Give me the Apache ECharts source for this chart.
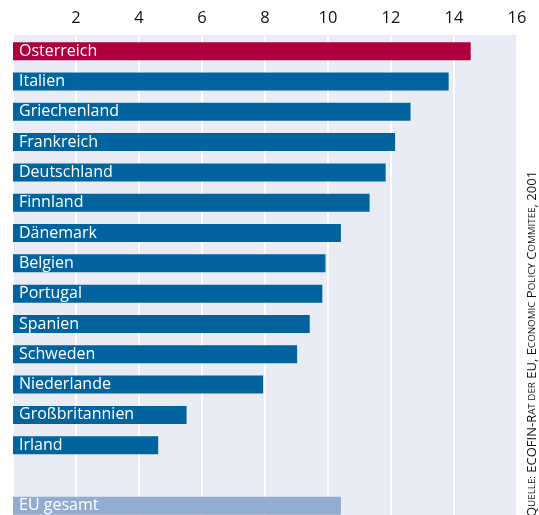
<!DOCTYPE html>
<html>
<head>
<meta charset="utf-8">
<script src="https://cdn.jsdelivr.net/npm/echarts@6/dist/echarts.min.js"></script>
<style>
html,body{margin:0;padding:0;background:#fff;overflow:hidden;width:539px;height:515px;}
#chart{width:539px;height:521px;}
</style>
</head>
<body>
<div id="chart"></div>
<script>
const categories = ['Österreich','Italien','Griechenland','Frankreich','Deutschland','Finnland','Dänemark','Belgien','Portugal','Spanien','Schweden','Niederlande','Großbritannien','Irland','','EU gesamt'];
const values = [14.53, 13.83, 12.62, 12.13, 11.83, 11.32, 10.41, 9.92, 9.82, 9.42, 9.02, 7.94, 5.51, 4.61, null, 10.41];
const tickValues = [2, 4, 6, 8, 10, 12, 14, 16];

const chart = echarts.init(document.getElementById('chart'));
const FONT = "'Open Sans', 'Noto Sans', sans-serif";
function barColor(name) {
  if (name === 'Österreich') return '#ad003c';
  if (name === 'EU gesamt') return '#93acd0';
  return '#02649f';
}
chart.setOption({
  animation: false,
  graphic: [{
    type: 'rect', z: -1, silent: true,
    shape: {x: 13, y: 35, width: 504, height: 490},
    style: {fill: '#e9ecf4'}
  }, {
    type: 'text',
    x: 532, y: 517,
    rotation: Math.PI / 2,
    style: {
      text: '{c|Q}{s|UELLE:}{c| ECOFIN-R}{s|AT DER}{c| EU, E}{s|CONOMIC}{c| P}{s|OLICY}{c| C}{s|OMMITEE}{c|, 2001}',
      align: 'left', verticalAlign: 'middle',
      rich: {
        c: {fontSize: 13, fontFamily: FONT, fill: '#111'},
        s: {fontSize: 9.8, fontFamily: FONT, fill: '#111'}
      }
    }
  }],
  grid: {left: 13, right: 22, top: 36, bottom: 0, show: false},
  xAxis: {
    type: 'value', position: 'top', min: 0, max: 16, interval: 2,
    axisLine: {show: false}, axisTick: {show: false},
    axisLabel: {
      margin: 9, color: '#111', fontSize: 16.5, fontFamily: FONT,
      formatter: v => tickValues.includes(v) ? String(v) : ''
    },
    splitLine: {show: true, lineStyle: {color: '#ffffff', width: 2}}
  },
  yAxis: {
    type: 'category', data: categories, inverse: true,
    axisLine: {show: false}, axisTick: {show: false}, axisLabel: {show: false},
    splitLine: {show: false}
  },
  series: [{
    type: 'bar',
    data: values,
    barWidth: 18,
    itemStyle: {
      color: p => barColor(p.name)
    },
    label: {
      show: true, position: 'insideLeft', distance: 6,
      formatter: p => p.name, color: '#ffffff', fontSize: 16, fontFamily: FONT
    }
  }]
});
</script>
</body>
</html>
